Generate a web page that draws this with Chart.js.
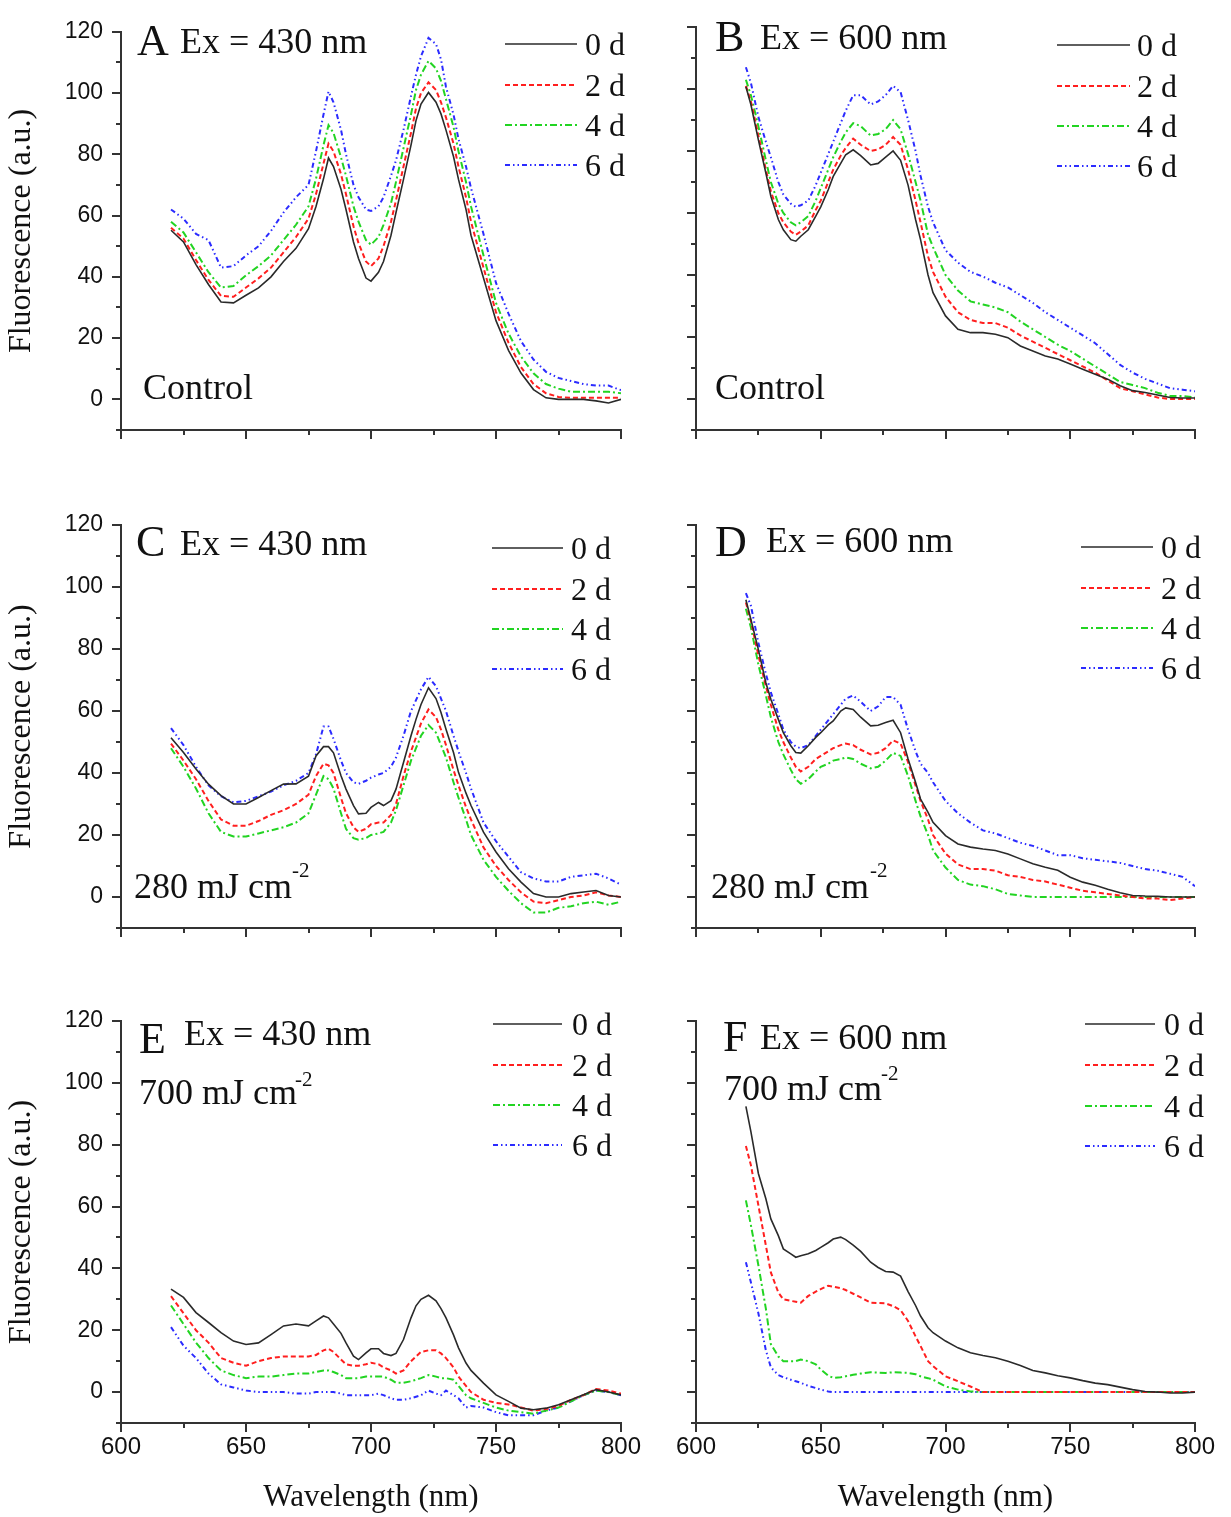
<!DOCTYPE html>
<html>
<head>
<meta charset="utf-8">
<script src="https://cdn.jsdelivr.net/npm/chart.js@4.4.1/dist/chart.umd.min.js"></script>
<style>
  body { margin: 0; background: #fff; }
  #page { position: relative; width: 1231px; height: 1517px; overflow: hidden; background: #fff; }
  #page canvas { position: absolute; }
</style>
</head>
<body>
<div id="page"></div>
<script>
// wavelength grids (nm)
const wl430 = [620,625,630,635,640,645,650,655,660,665,670,675,678,681,683,685,688,690,693,695,
  698,700,703,705,708,710,713,716,718,720,723,726,728,730,733,735,738,740,745,750,
  755,760,765,770,775,780,785,790,795,800];
const wl600 = [620,622,625,628,630,633,635,638,640,642,645,648,650,653,655,658,660,663,666,670,
  673,676,679,682,685,688,690,693,695,700,705,710,715,720,725,730,735,740,745,750,
  755,760,765,770,775,780,785,790,795,800];

const dayLabels = ['0 d', '2 d', '4 d', '6 d'];
const xTickValues = [600, 625, 650, 675, 700, 725, 750, 775, 800];
const yTickValues = [-10, 0, 10, 20, 30, 40, 50, 60, 70, 80, 90, 100, 110, 120];

// A: control, Ex 430
const a0 = [55.2,51.4,44,37.5,31.8,31.5,34,36.4,40,45,49.3,55.7,63,72,78.8,76,68.6,62,51.4,46,
  39.6,38.6,41.5,45,53.6,61,71.8,83,91,96.4,100.2,97,93.2,87.9,79.3,71.8,62,53.6,39.6,25.7,
  16,8.6,3.2,0.5,0,0,0,-0.5,-1.2,0];
const a2 = [56,52.5,45.5,39,33.8,33.5,36.5,39.5,43,48,53,59,67,77,83.5,81,73.5,67,56.5,51,
  45,43.5,46,50,58,65,76,87,95,100,103.5,101,97,92,83.5,76,66,58,43,28.5,
  18.5,10.5,5,2,0.8,0.5,0.5,0.5,0.5,0.5];
const a4 = [58,54.5,48,41.5,36.5,37,40.5,43.5,47,52,57,63,72,83,89.5,87,79,73,63,58,
  52,50.5,53,57,64,71,82,93,101,106,110.5,108,104,98,89,81,71,63,47,31.5,
  21.5,14,8.5,5,3.5,2.5,2.5,2.5,2.5,2];
const a6 = [62,59,54,52,43,43.5,47,50,55,61,66,70,81,93,100.5,97,88,80,70,66,
  62,61.5,63,66,73,78,88,99,106,112,118,116,111,102,93,85,76,69,54,38,
  28,19,13,9,7,6,5,4.5,4.5,3];

// B: control, Ex 600
const b0 = [100.7,95,83.6,72.9,65.4,57.9,54.6,51.4,50.9,52.5,54.6,59,62,67.5,71.8,76,78.8,80.4,78.5,75.5,
  76,78,80,77,69,57.9,51.4,40,34.3,26.8,22.5,21.4,21.4,20.9,19.8,17.1,15.5,13.9,12.9,11.3,
  9.6,8,6.4,4.3,2.7,2.1,1.3,0.5,0.3,0.3];
const b2 = [101,96,85,74,67,60,57,54,53,54,56,61,64,70,74,78.5,81,84,82,80,
  80.5,82,84.5,82,74,64,57,46,41,33,28,25.5,24.5,24.5,23,20.5,18.5,16.5,14.5,12.5,
  10.5,8.5,6,3.5,2.5,1.5,0.5,0,0,0];
const b4 = [103,98,88,77,70,63,60,57,56,57,59,64,68,74,78,83,86,89,88,85,
  85.5,87,90,87,79,70,64,53,49,40,35,31.5,30.5,29.5,28,25,22.5,20,17.5,15.5,
  13,10.5,8,5.5,4.5,3.5,2,1,1,0.5];
const b6 = [107,102,91,83,78,70,66,63,62,62.5,64,69,73,79,83,89,93,98,98,95,
  96,98,101,99,90,80,72,62,57,48,44,41,39.5,37.5,36,33.5,31,28,25.5,23,
  20.5,18,14.5,11,8.5,6.5,5,3.5,3,2.5];

// C: 280 mJ cm-2, Ex 430
const c0 = [51.4,46.6,41.3,36.4,32.7,30,30,32.1,34.3,36.4,36.5,39,45.5,48.5,48.5,46.5,39.1,34.8,29.5,26.8,
  27,28.9,30.5,29.5,31.1,34.8,43.4,52,57.3,62.1,67.5,64,59.5,54.1,46.6,40.2,33.5,29.5,20.9,14.5,
  9.1,4.8,1.1,0,0,1.1,1.6,2.1,0.5,0];
const c2 = [49.5,44,38,31,25,23,23,24.5,26.5,28,30,33,39,43,42.5,40,32,27,22.5,21,
  22,23.5,24,24,26.5,30,39,47,51.5,56,60.5,58,54,49,41,36,29,25,16,10,
  5.5,1.5,-1.5,-2,-1,0,0.5,1.5,0.5,0];
const c4 = [48,42,35,27,21,19.5,19.5,20.5,21.5,22.5,24,27,33,39,38,35,27,22,19,18.5,
  19,20,20.5,21,24,28,36,44,48,52,55.5,53,49,45,37,32,25,20,12,6.5,
  2,-2,-5,-5,-3.5,-3,-2,-1.5,-2.5,-1.5];
const c6 = [54.5,49,42,36,32.5,30.5,31,32.5,34,36,37.5,40,46,55,55,51,44,40,37,36.5,
  37.5,38.5,39.5,40,42,45,52,60,63.5,67,71,68,64,60,52,47,40,35,24,18,
  13,8,6,5,5,6.5,7,7.5,6,4];

// D: 280 mJ cm-2, Ex 600
const d0 = [95.9,89.5,79.8,69.1,63.8,57.3,53,48.8,46.6,46.4,48.8,51.5,53,55.5,56.8,60,61,60.5,58,55.2,
  55.4,56.3,57,53,44.5,37,31.6,27.3,24.1,19.8,17.1,16.1,15.5,15,13.9,12.3,10.7,9.6,8.6,6.4,
  4.8,3.8,2.5,1.4,0.5,0.3,0.2,0,0,0];
const d2 = [95,89,78,68,62,54,50,45,42,40.5,42,44.5,45.5,47,48,49,49.5,49,47.5,46,
  46.5,48,50.5,49.5,43.5,36,31,25,20,14,10.5,9,9,8.5,7,6.5,5.5,5,4,3,
  2,1.5,1,0.5,0,-0.5,-0.5,-1,-0.5,0];
const d4 = [93,87,75,65,58,50,46,41,38,36.5,38,40.5,42,43,44,44.5,45,44.5,43,41.5,
  42,44,46.5,45.5,39,31,26,20,15,9.5,5.5,4,3.5,2.5,1,0.5,0,0,0,0,
  0,0,0,0,0,0,0,0,0,0];
const d6 = [98,94,82,72,66,59,54,50,48.5,48,49,52,54,57,59,62,64,65,63,60,
  61.5,64.5,64.5,62,54,47,43,40,37,31,27,24,21.5,20.5,19,17.5,16.5,15,13.5,13.5,
  12.5,12,11.5,11,10,9,8.5,7.5,6.5,3.5];

// E: 700 mJ cm-2, Ex 430
const e0 = [33.3,30.6,25.7,22.5,19.2,16.5,15.4,15.9,18.6,21.4,22,21.4,23,24.6,24,22,19,15.9,11.6,10.5,
  12.7,14,14,12.5,11.8,12.5,17,24,27.9,30,31.3,29.5,27,24,18.5,14.3,9.4,7,2.9,-0.9,
  -3,-5.2,-5.7,-5.2,-4.1,-2.5,-0.9,0.8,0,-0.9];
const e2 = [31,25.5,20,16,11,9.5,8.5,10,11,11.5,11.5,11.5,12,13.5,14,13,10.5,9,8.5,8.5,
  9,9.5,9,8,7,6,7,10,11.5,13,13.5,13.5,12.5,11,8,5,2,0,-2.5,-3.5,
  -4,-5,-6,-5.5,-4.5,-2.5,-1,1,0.5,-0.5];
const e4 = [28,22,16,11,7,5.5,4.5,5,5,5.5,6,6,6.5,7,7,6.5,5.5,4.5,4.5,4.5,
  5,5,5,5,4,3,3,3.5,4,4.5,5.5,5,4.5,4.5,4,2,-1,-2,-3.5,-5,
  -6,-6.5,-7,-6,-5,-3,-1,0.5,0,-1];
const e6 = [21,15,11,6,2.5,1.5,0.5,0,0,0,-0.5,-0.5,0,0,0,0,-0.5,-1,-1,-1,
  -1,-1,-0.5,-1,-2,-2.5,-2.5,-2,-1.5,-1,0.5,-0.5,-1,0.5,-1,-2,-5,-4.5,-5,-6.5,
  -7.5,-7.5,-7.5,-6,-5,-3,-1,0.5,0,-1];

// F: 700 mJ cm-2, Ex 600
const f0 = [92.4,84.2,70.7,62.5,56,50.6,46.3,44.7,43.6,44.1,44.7,45.8,46.8,48.3,49.5,50.1,49.3,47.5,45.5,42,
  40.3,39,38.8,37.5,32.5,28,24.6,20.8,19.2,16.5,14.3,12.7,11.8,11.1,10,8.6,7,6.2,5.3,4.6,
  3.7,2.9,2.4,1.6,0.8,0.2,0,-0.3,-0.3,0];
const f2 = [79.6,73.4,60.4,47.4,38.7,32.2,30,29.5,29.2,28.9,31.1,32.5,33.3,34.4,34.1,33.6,33,31.8,30.6,28.9,
  28.8,28.7,27.8,26.5,23,18,14.9,10,8.4,5.1,3.5,1.8,0,0,0,0,0,0,0,0,
  0,0,0,0,0,0,0,0,0,0];
const f4 = [62,54,41,27,15.5,11.5,10,10,10,10.5,10,9,7.3,5.3,4.6,4.8,5.1,5.6,6,6.4,
  6.3,6.2,6.4,6.3,6.2,5.8,5.1,4.5,4,1.8,0.8,0.2,0,0,0,0,0,0,0,0,
  0,0,0,0,0,0,0,0,0,0];
const f6 = [42,35.5,25.5,13.5,8,5.5,4.8,4,3.5,3,2,1.3,0.8,0.2,0,0,0,0,0,0,
  0,0,0,0,0,0,0,0,0,0,0,0,0,0,0,0,0,0,0,0,
  0,0,0,0,0,0,0,0,0,0];

// styles
const lineColors = ['#2a2a2a', '#ff1f1f', '#22d422', '#2b2bff'];
const lineWidths = [1.6, 2, 2, 2];
const lineDashes = [[], [5, 3], [7, 3, 2, 3], [5, 3, 1.5, 3, 1.5, 3]];
const serif = "'Liberation Serif', 'Times New Roman', serif";
const sans = "'Liberation Sans', Arial, sans-serif";

// canvas boxes, page coordinates
const cols = [
  { left: 0, width: 660, axisW: 121, padR: 39 },
  { left: 640, width: 591, axisW: 56, padR: 36 }
];
const rows = [
  { top: 0, height: 470, padT: 27, axisH: 40 },
  { top: 490, height: 470, padT: 35, axisH: 32 },
  { top: 985, height: 532, padT: 36, axisH: 94 }
];

const panels = [
  { letter: 'A', ex: 'Ex = 430 nm', wl: wl430, series: [a0, a2, a4, a6], col: 0, row: 0,
    letterAt: [137, 55], exAt: [180, 53], note: 'Control', noteAt: [143, 399],
    legend: { x1: 505, x2: 577, tx: 585, ys: [44, 85, 125, 165] } },
  { letter: 'B', ex: 'Ex = 600 nm', wl: wl600, series: [b0, b2, b4, b6], col: 1, row: 0,
    letterAt: [715, 51], exAt: [760, 49], note: 'Control', noteAt: [715, 399],
    legend: { x1: 1057, x2: 1130, tx: 1137, ys: [45, 86, 126, 166] } },
  { letter: 'C', ex: 'Ex = 430 nm', wl: wl430, series: [c0, c2, c4, c6], col: 0, row: 1,
    letterAt: [136, 556], exAt: [180, 555], note: '280 mJ cm', noteAt: [134, 898], sup: '-2', supAt: [292, 877],
    legend: { x1: 492, x2: 563, tx: 571, ys: [548, 589, 629, 669] } },
  { letter: 'D', ex: 'Ex = 600 nm', wl: wl600, series: [d0, d2, d4, d6], col: 1, row: 1,
    letterAt: [715, 556], exAt: [766, 552], note: '280 mJ cm', noteAt: [711, 898], sup: '-2', supAt: [870, 877],
    legend: { x1: 1081, x2: 1153, tx: 1161, ys: [547, 588, 628, 668] } },
  { letter: 'E', ex: 'Ex = 430 nm', wl: wl430, series: [e0, e2, e4, e6], col: 0, row: 2,
    letterAt: [139, 1053], exAt: [184, 1045], note: '700 mJ cm', noteAt: [139, 1104], sup: '-2', supAt: [295, 1086],
    legend: { x1: 493, x2: 562, tx: 572, ys: [1024, 1065, 1105, 1145] } },
  { letter: 'F', ex: 'Ex = 600 nm', wl: wl600, series: [f0, f2, f4, f6], col: 1, row: 2,
    letterAt: [723, 1051], exAt: [760, 1049], note: '700 mJ cm', noteAt: [724, 1100], sup: '-2', supAt: [881, 1080],
    legend: { x1: 1085, x2: 1155, tx: 1164, ys: [1024, 1065, 1106, 1146] } }
];

function decorPlugin(p, col, row) {
  return {
    id: 'decor' + p.letter,
    afterDraw(chart) {
      const { ctx, chartArea, scales: { x, y } } = chart;
      const ox = col.left, oy = row.top;
      ctx.save();
      // tick marks (major / minor)
      ctx.strokeStyle = '#333';
      ctx.lineWidth = 2;
      xTickValues.forEach(v => {
        const px = Math.round(x.getPixelForValue(v));
        const len = v % 50 === 0 ? 9 : 5;
        ctx.beginPath();
        ctx.moveTo(px, chartArea.bottom);
        ctx.lineTo(px, chartArea.bottom + len);
        ctx.stroke();
      });
      yTickValues.forEach(v => {
        const py = Math.round(y.getPixelForValue(v));
        const len = v % 20 === 0 ? 9 : 5;
        ctx.beginPath();
        ctx.moveTo(chartArea.left, py);
        ctx.lineTo(chartArea.left - len, py);
        ctx.stroke();
      });

      // legend
      const lg = p.legend;
      chart.data.datasets.forEach((ds, i) => {
        const ly = lg.ys[i] - oy;
        ctx.strokeStyle = ds.borderColor;
        ctx.lineWidth = ds.borderWidth;
        ctx.setLineDash(ds.borderDash);
        ctx.beginPath();
        ctx.moveTo(lg.x1 - ox, ly);
        ctx.lineTo(lg.x2 - ox, ly);
        ctx.stroke();
        ctx.setLineDash([]);
        ctx.fillStyle = '#111';
        ctx.font = '32px ' + serif;
        ctx.textBaseline = 'alphabetic';
        ctx.textAlign = 'left';
        ctx.fillText(ds.label, lg.tx - ox, ly + 11);
      });

      // panel annotations
      ctx.fillStyle = '#111';
      ctx.textBaseline = 'alphabetic';
      ctx.font = '44px ' + serif;
      ctx.fillText(p.letter, p.letterAt[0] - ox, p.letterAt[1] - oy);
      ctx.font = '36px ' + serif;
      ctx.fillText(p.ex, p.exAt[0] - ox, p.exAt[1] - oy);
      ctx.fillText(p.note, p.noteAt[0] - ox, p.noteAt[1] - oy);
      if (p.sup) {
        ctx.font = '21px ' + serif;
        ctx.fillText(p.sup, p.supAt[0] - ox, p.supAt[1] - oy);
      }
      ctx.restore();
    }
  };
}

const page = document.getElementById('page');

panels.forEach(p => {
  const col = cols[p.col], row = rows[p.row];
  const canvas = document.createElement('canvas');
  canvas.width = col.width;
  canvas.height = row.height;
  canvas.style.left = col.left + 'px';
  canvas.style.top = row.top + 'px';
  canvas.style.width = col.width + 'px';
  canvas.style.height = row.height + 'px';
  page.appendChild(canvas);

  const datasets = p.series.map((vals, i) => ({
    label: dayLabels[i],
    data: p.wl.map((w, k) => ({ x: w, y: vals[k] })),
    borderColor: lineColors[i],
    borderWidth: lineWidths[i],
    borderDash: lineDashes[i],
    pointRadius: 0,
    tension: 0,
    fill: false
  }));

  const isLeft = p.col === 0;
  const isBottom = p.row === 2;

  new Chart(canvas.getContext('2d'), {
    type: 'line',
    data: { datasets },
    options: {
      responsive: false,
      animation: false,
      devicePixelRatio: 1,
      events: [],
      layout: { padding: { left: 0, right: col.padR, top: row.padT, bottom: 0 } },
      plugins: { legend: { display: false }, tooltip: { enabled: false } },
      scales: {
        x: {
          type: 'linear',
          min: 600,
          max: 800,
          grid: { display: false, drawTicks: false },
          border: { display: true, color: '#333', width: 2 },
          ticks: {
            display: isBottom,
            stepSize: 50,
            autoSkip: false,
            maxRotation: 0,
            padding: 10,
            color: '#111',
            font: { family: sans, size: 24 }
          },
          title: {
            display: isBottom,
            text: 'Wavelength (nm)',
            color: '#111',
            font: { family: serif, size: 31 },
            padding: { top: 0, bottom: 1 }
          },
          afterFit(scale) { scale.height = row.axisH; }
        },
        y: {
          min: -10,
          max: 120,
          grid: { display: false, drawTicks: false },
          border: { display: true, color: '#333', width: 2 },
          ticks: {
            display: isLeft,
            stepSize: 10,
            autoSkip: false,
            padding: 18,
            color: '#111',
            font: { family: sans, size: 23 },
            callback: v => (v % 20 === 0 ? v : '')
          },
          title: {
            display: isLeft,
            text: 'Fluorescence (a.u.)',
            color: '#111',
            font: { family: serif, size: 32 },
            padding: { top: 2, bottom: 0 }
          },
          afterFit(scale) { scale.width = col.axisW; }
        }
      }
    },
    plugins: [decorPlugin(p, col, row)]
  });
});
</script>
</body>
</html>
